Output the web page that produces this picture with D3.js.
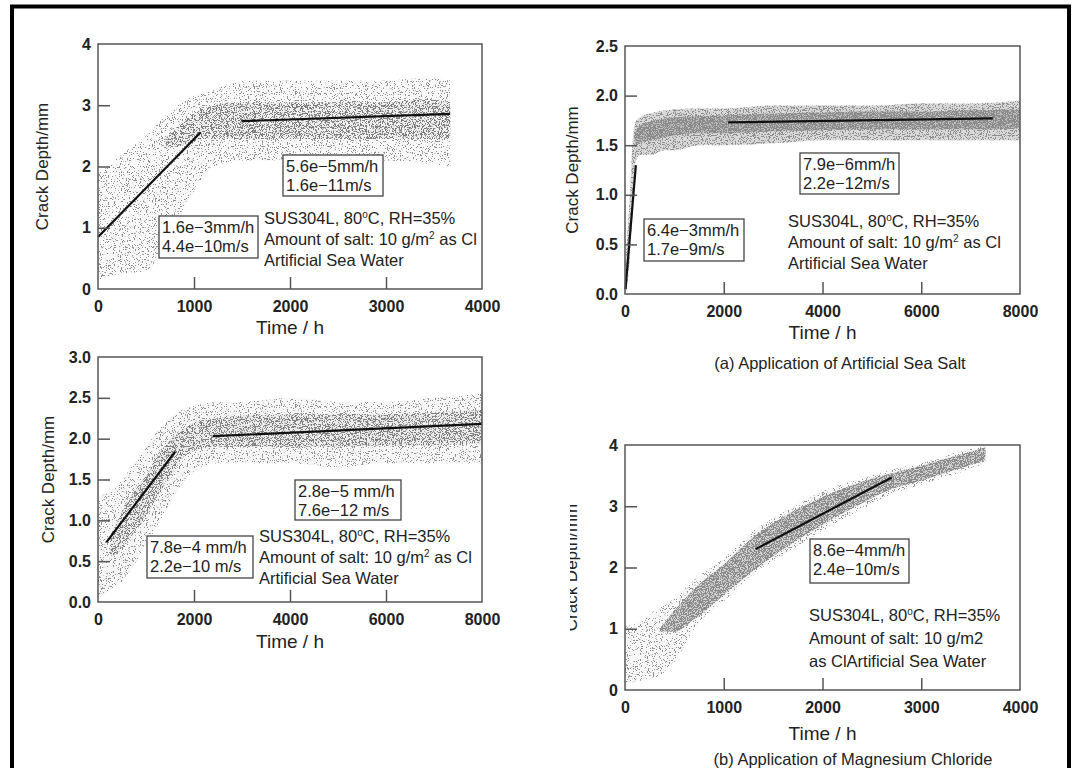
<!DOCTYPE html>
<html>
<head>
<meta charset="utf-8">
<script src="https://cdn.jsdelivr.net/npm/d3@7"></script>
<style>
  body { margin: 0; background: #fff; }
  svg text { font-family: "Liberation Sans", Arial, sans-serif; fill: #222; }
  .tick text { font-size: 16px; font-weight: bold; }
  .axis_title { font-size: 17px; }
  .time_title { font-size: 19px; }
  .note { font-size: 16.5px; }
  .caption { font-size: 16.5px; }
</style>
</head>
<body>
<svg id="chart" width="1072" height="768"></svg>
<script>

// ---- panel 1 : artificial sea water, 0-4000 h ----
let p1Time     = [0, 100, 250, 500, 750, 1000, 1200, 1500, 2000, 2500, 3000, 3400, 3670]
let p1Low      = [0.15, 0.2, 0.25, 0.3, 0.9, 1.6, 2.0, 2.1, 2.1, 2.1, 2.1, 2.05, 2.0]
let p1High     = [1.9, 2.0, 2.2, 2.5, 2.9, 3.15, 3.25, 3.4, 3.4, 3.4, 3.4, 3.45, 3.4]
let p1CoreTime = [700, 900, 1100, 1500, 2000, 2500, 3000, 3400, 3670]
let p1CoreLow  = [2.3, 2.35, 2.45, 2.45, 2.45, 2.45, 2.45, 2.45, 2.45]
let p1CoreHigh = [2.45, 2.75, 2.95, 3.05, 3.05, 3.05, 3.05, 3.1, 3.05]
let p1Fits     = [[0, 0.85, 1070, 2.56], [1495, 2.74, 3668, 2.86]]
let p1Rates    = [["5.6e\u22125mm/h", "1.6e\u221211m/s"], ["1.6e\u22123mm/h", "4.4e\u221210m/s"]]

// ---- panel 2 : artificial sea salt, 0-8000 h ----
let p2Time     = [0, 50, 100, 150, 200, 300, 500, 800, 1000, 1500, 2000, 3000, 4000, 5000, 6000, 7000, 8000]
let p2Low      = [0, 0.1, 0.4, 0.8, 1.3, 1.4, 1.4, 1.45, 1.45, 1.5, 1.5, 1.52, 1.55, 1.55, 1.55, 1.55, 1.55]
let p2High     = [0.3, 0.6, 1.0, 1.5, 1.72, 1.78, 1.82, 1.85, 1.86, 1.87, 1.87, 1.9, 1.9, 1.9, 1.92, 1.92, 1.95]
let p2CoreTime = [200, 300, 500, 800, 1000, 1500, 2000, 3000, 4000, 5000, 6000, 7000, 8000]
let p2CoreLow  = [1.5, 1.52, 1.55, 1.58, 1.6, 1.62, 1.62, 1.64, 1.65, 1.66, 1.66, 1.66, 1.67]
let p2CoreHigh = [1.62, 1.7, 1.74, 1.77, 1.78, 1.79, 1.8, 1.82, 1.83, 1.84, 1.84, 1.85, 1.86]
let p2Fits     = [[10, 0.05, 220, 1.3], [2090, 1.73, 7450, 1.77]]
let p2Rates    = [["7.9e\u22126mm/h", "2.2e\u221212m/s"], ["6.4e\u22123mm/h", "1.7e\u22129m/s"]]

// ---- panel 3 : artificial sea water, 0-8000 h ----
let p3Time     = [0, 250, 500, 750, 1000, 1250, 1500, 1750, 2000, 2500, 3000, 4000, 5000, 6000, 7000, 8000]
let p3Low      = [0.05, 0.15, 0.25, 0.45, 0.7, 0.95, 1.2, 1.45, 1.6, 1.7, 1.7, 1.7, 1.65, 1.7, 1.7, 1.7]
let p3High     = [1.3, 1.35, 1.5, 1.7, 1.9, 2.1, 2.25, 2.35, 2.4, 2.45, 2.45, 2.5, 2.45, 2.45, 2.5, 2.55]
let p3CoreTime = [250, 500, 750, 1000, 1250, 1500, 1750, 2000, 2500, 3000, 4000, 5000, 6000, 7000, 8000]
let p3CoreLow  = [0.55, 0.65, 0.85, 1.05, 1.3, 1.55, 1.75, 1.85, 1.9, 1.9, 1.9, 1.9, 1.92, 1.92, 1.95]
let p3CoreHigh = [0.8, 1.1, 1.35, 1.55, 1.8, 1.98, 2.1, 2.2, 2.25, 2.28, 2.3, 2.3, 2.3, 2.32, 2.35]
let p3Fits     = [[173, 0.73, 1607, 1.84], [2390, 2.03, 8000, 2.18]]
let p3Rates    = [["2.8e\u22125 mm/h", "7.6e\u221212 m/s"], ["7.8e\u22124 mm/h", "2.2e\u221210 m/s"]]

// ---- panel 4 : magnesium chloride, 0-4000 h ----
let p4Time     = [0, 150, 300, 500, 700, 1000, 1300, 1600, 2000, 2400, 2700, 3000, 3300, 3650]
let p4Low      = [0.1, 0.15, 0.2, 0.45, 1.0, 1.45, 1.9, 2.2, 2.6, 2.95, 3.2, 3.35, 3.5, 3.7]
let p4High     = [1.05, 1.1, 1.3, 1.5, 1.8, 2.15, 2.6, 2.9, 3.25, 3.45, 3.6, 3.7, 3.85, 4.0]
let p4CoreTime = [350, 500, 700, 1000, 1300, 1600, 2000, 2400, 2700, 3000, 3300, 3650]
let p4CoreLow  = [0.95, 0.95, 1.15, 1.55, 1.95, 2.3, 2.7, 3.05, 3.28, 3.42, 3.57, 3.76]
let p4CoreHigh = [1.0, 1.3, 1.65, 2.05, 2.5, 2.82, 3.15, 3.4, 3.54, 3.66, 3.8, 3.96]
let p4Fits     = [[1323, 2.30, 2701, 3.47]]
let p4Rates    = [["8.6e\u22124mm/h", "2.4e\u221210m/s"]]

let ticks4000  = [0, 1000, 2000, 3000, 4000]
let ticks8000  = [0, 2000, 4000, 6000, 8000]
let ticksY4    = [0, 1, 2, 3, 4]
let ticksY25   = [0, 0.5, 1.0, 1.5, 2.0, 2.5]
let ticksY3    = [0, 0.5, 1.0, 1.5, 2.0, 2.5, 3.0]

let condLines   = ["SUS304L, 80\u00B0C, RH=35%", "Amount of salt: 10 g/m\u00B2 as Cl", "Artificial Sea Water"]
let condLinesMg = ["SUS304L, 80\u00B0C, RH=35%", "Amount of salt: 10 g/m2", "as ClArtificial Sea Water"]


let svg = d3.select('#chart')

// speckle filters, make the bands look like a cloud of dots
let defs = svg.append('defs')
function add_grain(id, threshold, seed) {
    let f = defs.append('filter').attr('id', id)
        .attr('filterUnits', 'userSpaceOnUse')
        .attr('x', 0).attr('y', 0).attr('width', 1072).attr('height', 768)
    f.append('feTurbulence').attr('type', 'fractalNoise')
        .attr('baseFrequency', 0.85).attr('numOctaves', 2).attr('seed', seed).attr('result', 'noise')
    f.append('feColorMatrix').attr('in', 'noise').attr('type', 'matrix')
        .attr('values', '0 0 0 0 0  0 0 0 0 0  0 0 0 0 0  22 0 0 0 ' + (-22 * threshold))
        .attr('result', 'mask')
    f.append('feComposite').attr('in', 'SourceGraphic').attr('in2', 'mask').attr('operator', 'in')
}
add_grain('grain_light', 0.61, 3)
add_grain('grain_mid', 0.54, 5)
add_grain('grain_heavy', 0.47, 7)

defs.append('clipPath').attr('id', 'clip_title4')
    .append('rect').attr('x', 570).attr('y', 440).attr('width', 40).attr('height', 260)


function Panel(opt) {
    let w = opt.w, h = opt.h
    let g = svg.append('g').attr('transform', 'translate(' + opt.left + ',' + opt.top + ')')

    let x = d3.scaleLinear().domain(opt.xDomain).range([0, w])
    let y = d3.scaleLinear().domain(opt.yDomain).range([h, 0])

    let outerRows = opt.time.map((t, i) => ({ t: t, lo: opt.low[i], hi: opt.high[i] }))
    let coreRows  = opt.coreTime.map((t, i) => ({ t: t, lo: opt.coreLow[i], hi: opt.coreHigh[i] }))

    let band = d3.area().x(d => x(d.t)).y0(d => y(d.lo)).y1(d => y(d.hi)).curve(d3.curveMonotoneX)

    g.append('path').attr('d', band(outerRows)).attr('fill', opt.dotCol).attr('opacity', opt.baseOpacity[0])
    g.append('path').attr('d', band(outerRows)).attr('fill', opt.dotCol).attr('filter', 'url(#' + opt.grain[0] + ')')
    g.append('path').attr('d', band(coreRows)).attr('fill', opt.coreCol).attr('opacity', opt.baseOpacity[1])
    g.append('path').attr('d', band(coreRows)).attr('fill', opt.coreCol).attr('filter', 'url(#' + opt.grain[1] + ')')

    // fitted lines
    opt.fits.forEach(f => {
        g.append('line')
            .attr('x1', x(f[0])).attr('y1', y(f[1]))
            .attr('x2', x(f[2])).attr('y2', y(f[3]))
            .attr('stroke', '#111').attr('stroke-width', 2.2)
    })

    // axes with inward ticks
    let ax = g.append('g').attr('transform', 'translate(0,' + h + ')')
        .call(d3.axisBottom(x).tickValues(opt.xTicks).tickSize(-12).tickPadding(12).tickFormat(d3.format('d')))
    let ay = g.append('g')
        .call(d3.axisLeft(y).tickValues(opt.yTicks).tickSize(-12).tickPadding(7).tickFormat(d3.format(opt.yFmt)))
    ;[ax, ay].forEach(a => {
        a.select('.domain').remove()
        a.selectAll('.tick line').attr('stroke', '#555').attr('stroke-width', 1.5)
            .filter((d, i, n) => i == 0 || i == n.length - 1).remove()
        a.selectAll('.tick text').attr('fill', '#222')
    })

    g.append('rect').attr('width', w).attr('height', h)
        .attr('fill', 'none').attr('stroke', '#555').attr('stroke-width', 1.5)

    g.append('text').attr('x', w / 2).attr('y', h + opt.timeDy)
        .attr('text-anchor', 'middle').attr('class', 'time_title').text('Time / h')

    let holder = opt.clipTitle ? svg.append('g').attr('clip-path', 'url(#clip_title4)') : svg
    holder.append('text').attr('class', 'axis_title')
        .attr('transform', 'translate(' + (opt.left + opt.yTitleX) + ',' + (opt.top + h / 2) + ') rotate(-90)')
        .attr('text-anchor', 'middle').text('Crack Depth/mm')

    // rate boxes
    opt.rates.forEach((r, i) => {
        let b = opt.boxes[i]
        g.append('rect').attr('x', b[0]).attr('y', b[1]).attr('width', b[2]).attr('height', b[3])
            .attr('fill', '#fff').attr('stroke', '#444').attr('stroke-width', 1.3)
        r.forEach((s, j) => {
            g.append('text').attr('class', 'note')
                .attr('x', b[0] + 3).attr('y', b[1] + 17 + j * 19).text(s)
        })
    })

    // conditions
    opt.cond.forEach((s, j) => {
        let t = g.append('text').attr('class', 'note')
            .attr('x', opt.condAt[0]).attr('y', opt.condAt[1] + j * opt.condStep)
        let sup = s.indexOf('\u00B0') >= 0 ? ['\u00B0', 'o'] : s.indexOf('\u00B2') >= 0 ? ['\u00B2', '2'] : null
        if (sup) {
            let k = s.indexOf(sup[0])
            t.append('tspan').text(s.slice(0, k))
            t.append('tspan').attr('dy', -6).attr('font-size', 10).text(sup[1])
            t.append('tspan').attr('dy', 6).text(s.slice(k + 1))
        } else t.text(s)
    })

    if (opt.caption) {
        g.append('text').attr('class', 'caption').attr('x', opt.caption[0]).attr('y', opt.caption[1])
            .attr('text-anchor', 'middle').text(opt.caption[2])
    }
}

Panel({ left: 98, top: 44, w: 384, h: 245, xDomain: [0, 4000], yDomain: [0, 4],
        xTicks: ticks4000, yTicks: ticksY4, yFmt: 'd',
        time: p1Time, low: p1Low, high: p1High,
        coreTime: p1CoreTime, coreLow: p1CoreLow, coreHigh: p1CoreHigh,
        dotCol: '#8c8c8c', coreCol: '#7a7a7a', baseOpacity: [0.06, 0.06], grain: ['grain_light', 'grain_mid'],
        fits: p1Fits, rates: p1Rates,
        boxes: [[185, 111, 100, 41], [61, 172, 99, 42]],
        cond: condLines, condAt: [166, 180], condStep: 21, yTitleX: -50, timeDy: 45 })

Panel({ left: 625, top: 46, w: 395, h: 248, xDomain: [0, 8000], yDomain: [0, 2.5],
        xTicks: ticks8000, yTicks: ticksY25, yFmt: '.1f',
        time: p2Time, low: p2Low, high: p2High,
        coreTime: p2CoreTime, coreLow: p2CoreLow, coreHigh: p2CoreHigh,
        dotCol: '#8f8f8f', coreCol: '#8a8a8a', baseOpacity: [0.35, 0.35], grain: ['grain_mid', 'grain_heavy'],
        fits: p2Fits, rates: p2Rates,
        boxes: [[175, 107, 99, 41], [19, 173, 100, 42]],
        cond: condLines, condAt: [163, 181], condStep: 21, yTitleX: -47, timeDy: 45,
        caption: [215, 323, '(a) Application of Artificial Sea Salt'] })

Panel({ left: 98, top: 357, w: 384, h: 245, xDomain: [0, 8000], yDomain: [0, 3],
        xTicks: ticks8000, yTicks: ticksY3, yFmt: '.1f',
        time: p3Time, low: p3Low, high: p3High,
        coreTime: p3CoreTime, coreLow: p3CoreLow, coreHigh: p3CoreHigh,
        dotCol: '#8c8c8c', coreCol: '#7d7d7d', baseOpacity: [0.08, 0.08], grain: ['grain_light', 'grain_mid'],
        fits: p3Fits, rates: p3Rates,
        boxes: [[197, 123, 106, 40], [49, 179, 106, 42]],
        cond: condLines, condAt: [161, 185], condStep: 21, yTitleX: -44, timeDy: 46 })

Panel({ left: 625, top: 445, w: 395, h: 245, xDomain: [0, 4000], yDomain: [0, 4],
        xTicks: ticks4000, yTicks: ticksY4, yFmt: 'd',
        time: p4Time, low: p4Low, high: p4High,
        coreTime: p4CoreTime, coreLow: p4CoreLow, coreHigh: p4CoreHigh,
        dotCol: '#8f8f8f', coreCol: '#8a8a8a', baseOpacity: [0.07, 0.35], grain: ['grain_light', 'grain_heavy'],
        fits: p4Fits, rates: [p4Rates[0]],
        boxes: [[185, 94, 99, 44]],
        cond: condLinesMg, condAt: [184, 176], condStep: 23, yTitleX: -48, clipTitle: true, timeDy: 50,
        caption: [228, 320, '(b) Application of Magnesium Chloride'] })

// outer frame, runs off the bottom of the picture
svg.append('rect').attr('x', 12).attr('y', 6.5).attr('width', 1057).attr('height', 800)
    .attr('fill', 'none').attr('stroke', '#000').attr('stroke-width', 4)

</script>
</body>
</html>
